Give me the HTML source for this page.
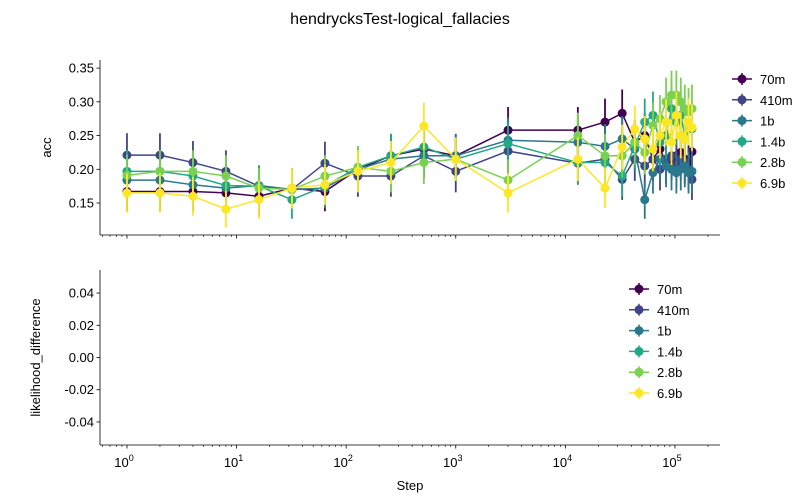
<!DOCTYPE html>
<html><head><meta charset="utf-8"><style>
body{margin:0;background:#fff}
svg{display:block;font-family:"Liberation Sans","DejaVu Sans",sans-serif}
</style></head><body>
<svg id="c" width="800" height="500"></svg>
<script>
const steps=[1,2,4,8,16,32,64,128,256,512,1000,3000,13000,23000,33000,43000,53000,63000,73000,83000,93000,103000,113000,123000,133000,143000];
const models=["70m","410m","1b","1.4b","2.8b","6.9b"];
const colors=["#440154","#414487","#2a788e","#22a884","#7ad151","#fde725"];
const acc70m=[0.167,0.167,0.167,0.165,0.160,0.172,0.167,0.200,0.220,0.230,0.220,0.258,0.258,0.270,0.283,0.240,0.250,0.215,0.230,0.210,0.215,0.220,0.225,0.215,0.210,0.226];
const acc410m=[0.221,0.221,0.210,0.197,0.175,0.170,0.209,0.190,0.190,0.220,0.197,0.227,0.209,0.215,0.185,0.215,0.205,0.215,0.200,0.215,0.220,0.205,0.215,0.210,0.200,0.185];
const acc1b=[0.184,0.184,0.177,0.172,0.176,0.170,0.172,0.200,0.215,0.220,0.220,0.243,0.240,0.234,0.245,0.230,0.155,0.195,0.215,0.205,0.200,0.195,0.200,0.205,0.195,0.197];
const acc14b=[0.197,0.197,0.190,0.176,0.175,0.155,0.175,0.203,0.220,0.233,0.215,0.238,0.210,0.210,0.190,0.235,0.270,0.280,0.240,0.250,0.290,0.270,0.280,0.250,0.270,0.260];
const acc28b=[0.191,0.197,0.197,0.190,0.172,0.170,0.190,0.203,0.197,0.210,0.215,0.184,0.250,0.220,0.220,0.240,0.225,0.265,0.275,0.300,0.310,0.310,0.300,0.290,0.285,0.290];
const acc69b=[0.165,0.165,0.160,0.141,0.155,0.172,0.177,0.197,0.210,0.264,0.215,0.165,0.215,0.172,0.233,0.260,0.245,0.230,0.250,0.270,0.240,0.280,0.250,0.245,0.270,0.262];
const series=[acc70m,acc410m,acc1b,acc14b,acc28b,acc69b];
const xTicks=[0,1,2,3,4,5];
const yTicksTop=[0.15,0.20,0.25,0.30,0.35];
const yTicksBot=[-0.04,-0.02,0.00,0.02,0.04];

const svg=document.getElementById('c');
const NS='http://www.w3.org/2000/svg';
function mk(t,a,p){const e=document.createElementNS(NS,t);for(const k in a)e.setAttribute(k,a[k]);(p||svg).appendChild(e);return e;}
const X0=100,X1=720,LMIN=-0.246,LMAX=5.411;
const x=v=>X0+(Math.log10(v)-LMIN)/(LMAX-LMIN)*(X1-X0);
const T={top:60,bot:235,min:0.1026,max:0.362};
const B={top:270,bot:445,min:-0.0543,max:0.0543};
const yT=v=>T.bot-(v-T.min)/(T.max-T.min)*(T.bot-T.top);
const yB=v=>B.bot-(v-B.min)/(B.max-B.min)*(B.bot-B.top);

let t=mk('text',{x:400,y:24,'text-anchor':'middle','font-size':16});t.textContent='hendrycksTest-logical_fallacies';



function axes(P,yf,ticks,label,name,fmt,showX,lx){
  const g=mk('g',{});
  
  
  mk('line',{x1:X0,y1:P.top,x2:X0,y2:P.bot,stroke:'#000','stroke-width':0.8},g);
  mk('line',{x1:X0,y1:P.bot,x2:X1,y2:P.bot,stroke:'#000','stroke-width':0.8},g);
  ticks.forEach(v=>{const yy=yf(v);mk('line',{x1:X0-3.5,y1:yy,x2:X0,y2:yy,stroke:'#000','stroke-width':0.8},g);
    const tx=mk('text',{x:X0-6,y:yy+4.5,'text-anchor':'end','font-size':13},g);tx.textContent=fmt(v);});
  xTicks.forEach(e=>{const xx=x(Math.pow(10,e));mk('line',{x1:xx,y1:P.bot,x2:xx,y2:P.bot+3.5,stroke:'#000','stroke-width':0.8},g);
    if(showX){const tx=mk('text',{x:xx-3,y:P.bot+22,'text-anchor':'middle','font-size':13},g);tx.textContent='10';
    const s=mk('tspan',{dy:-6,'font-size':9},tx);s.textContent=e;}});
  for(let e=-1;e<=5;e++)for(let m=2;m<=9;m++){const v=m*Math.pow(10,e);const xx=x(v);if(xx<X0||xx>X1)continue;
    mk('line',{x1:xx,y1:P.bot,x2:xx,y2:P.bot+2,stroke:'#000','stroke-width':0.6},g);}
  const yl=mk('text',{x:0,y:0,'text-anchor':'middle','font-size':13,transform:`translate(${lx},${(P.top+P.bot)/2}) rotate(-90)`},g);yl.textContent=label;
}
axes(T,yT,yTicksTop,'acc','top-axes',v=>v.toFixed(2),false,51);
axes(B,yB,yTicksBot,'likelihood_difference','bottom-axes',v=>v.toFixed(2),true,40);
let xl=mk('text',{x:410,y:490,'text-anchor':'middle','font-size':13});xl.textContent='Step';



series.forEach((s,i)=>{
  const g=mk('g',{});
  
  
  s.forEach((v,j)=>{const e=Math.sqrt(v*(1-v)/163);
    mk('line',{x1:x(steps[j]),x2:x(steps[j]),y1:yT(v-e),y2:yT(v+e),stroke:colors[i],'stroke-width':1.8},g);});
  mk('polyline',{points:s.map((v,j)=>x(steps[j])+','+yT(v)).join(' '),fill:'none',stroke:colors[i],'stroke-width':1.5},g);
  s.forEach((v,j)=>{const c=mk('circle',{cx:x(steps[j]),cy:yT(v),r:4.5,fill:colors[i]},g);
    
    });
});

function legend(lx,ly,sp,name){
  const g=mk('g',{});
  
  
  models.forEach((m,i)=>{const yy=ly+i*sp;
    mk('line',{x1:lx,x2:lx+20,y1:yy,y2:yy,stroke:colors[i],'stroke-width':1.5},g);
    mk('line',{x1:lx+10,x2:lx+10,y1:yy-6,y2:yy+6,stroke:colors[i],'stroke-width':1.5},g);
    mk('circle',{cx:lx+10,cy:yy,r:4.5,fill:colors[i]},g);
    const tx=mk('text',{x:lx+28,y:yy+5,'font-size':13},g);tx.textContent=m;
    
    });
}
legend(732,79,20.8,'top-legend');
legend(629,289,20.8,'bottom-legend');
</script>
</body></html>
